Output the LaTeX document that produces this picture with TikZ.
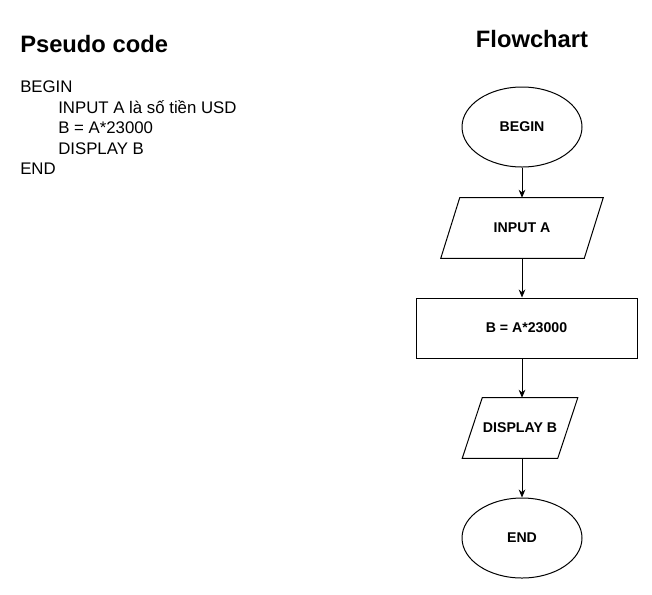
\documentclass[tikz,border=0pt]{standalone}
\usepackage{fontspec}
\setmainfont{Liberation Sans}
\usepackage{tikz}
\usetikzlibrary{arrows.meta, shapes.geometric}

\begin{document}
\begin{tikzpicture}[
    x=0.75pt, y=-0.75pt,
    title/.style={inner sep=0pt, anchor=base west, font=\fontsize{17.8}{20}\selectfont\bfseries},
    code/.style={inner sep=0pt, anchor=base west, font=\fontsize{12.6}{15}\selectfont},
    term/.style={ellipse, draw, line width=0.75pt, minimum width=90pt, minimum height=60pt, font=\fontsize{10.6}{12}\selectfont\bfseries},
    io/.style={rectangle, minimum height=45pt, inner sep=0pt, font=\fontsize{10.6}{12}\selectfont\bfseries},
    proc/.style={rectangle, draw, line width=0.75pt, minimum width=165.75pt, minimum height=45pt, font=\fontsize{10.6}{12}\selectfont\bfseries},
    edge/.style={line width=0.75pt, line join=miter},
    arr/.style={-{Stealth[length=6pt, width=5pt]}, line width=0.75pt}
]
    \useasboundingbox (0,0) rectangle (652,594);

    % pseudo code
    \node[title] (pstitle) at (20, 52) {Pseudo code};
    \node[code] (l1) at (20, 92.5) {BEGIN};
    \node[code] (l2) at (58, 113) {INPUT A là số tiền USD};
    \node[code] (l3) at (58, 133.5) {B = A*23000};
    \node[code] (l4) at (58, 154) {DISPLAY B};
    \node[code] (l5) at (20, 174.5) {END};

    % flowchart
    \node[title, anchor=base] (fctitle) at (532, 47) {Flowchart};
    \node[term] (begin) at (522, 127) {BEGIN};
    \node[io, minimum width=107.25pt] (input) at (522, 228) {INPUT A};
    \node[proc] (calc) at (526.5, 328) {B = A*23000};
    \node[io, minimum width=71.25pt] (display) at (520, 428) {DISPLAY B};
    \node[term] (end) at (522, 538) {END};

    % parallelograms
    \draw[edge] ([xshift=-7.1pt]input.south west) -- ([xshift=-7.1pt]input.south east)
        -- ([xshift=7.1pt]input.north east) -- ([xshift=7.1pt]input.north west) -- cycle;
    \draw[edge] ([xshift=-7.5pt]display.south west) -- ([xshift=-7.5pt]display.south east)
        -- ([xshift=7.5pt]display.north east) -- ([xshift=7.5pt]display.north west) -- cycle;

    \draw[arr] (begin) -- (input);
    \draw[arr] (input.south) -- (input.south |- calc.north);
    \draw[arr] (input.south |- calc.south) -- (input.south |- display.north);
    \draw[arr] (input.south |- display.south) -- (end);
\end{tikzpicture}
\end{document}
